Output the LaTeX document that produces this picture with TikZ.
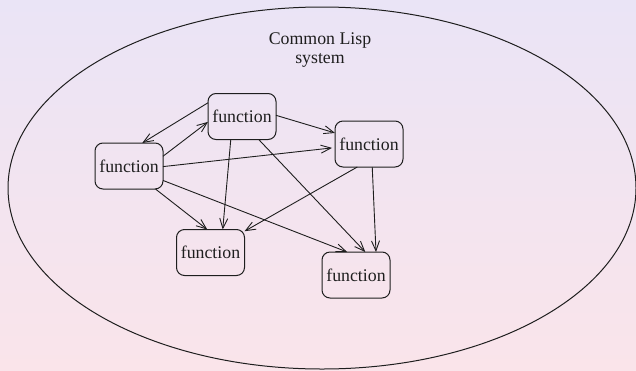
\documentclass[tikz,border=0pt]{standalone}
\usepackage{fontspec}
\setmainfont{Liberation Serif}
\usetikzlibrary{arrows.meta}
\definecolor{bgtop}{RGB}{234,228,246}
\definecolor{bgbot}{RGB}{250,228,234}
\definecolor{ink}{RGB}{30,30,30}
\tikzset{
  fn/.style={draw=ink, line width=1pt, rounded corners=8pt, minimum width=68pt, minimum height=46pt, inner sep=0pt, outer sep=0pt, font=\fontsize{17.8}{19}\selectfont, text=ink},
  link/.style={draw=ink, line width=0.9pt, -{Straight Barb[length=10pt,width=8pt,line width=0.9pt]}},
}
\begin{document}
\begin{tikzpicture}[x=1pt,y=-1pt]
\shade[top color=bgtop, bottom color=bgbot] (0,0) rectangle (636,370);
\useasboundingbox (0,0) rectangle (636,370);
\draw[ink, line width=1pt] (322,188) ellipse [x radius=314, y radius=181];
\node[font=\fontsize{17.8}{18.5}\selectfont, text=ink, align=center] (title) at (320,50) {Common Lisp\\system};
\node[fn] (T) at (242,116.5) {function};
\node[fn] (L) at (129,166) {function};
\node[fn] (R) at (369,144) {function};
\node[fn] (BL) at (210.5,252.5) {function};
\node[fn] (BR) at (356,275) {function};
\draw[link] (T.158.3) -- (L.60.5);
\draw[link] (L.16.4) -- (T.189.2);
\draw[link, shorten >=3pt] (L.-1.7) -- (R.186.7);
\draw[link] (T.2.5) -- (R.162.6);
\draw[link] (L.-41.5) -- (BL.98.8);
\draw[link] (T.-116) -- (BL.62.9);
\draw[link] (R.-117.6) -- (BL.32.6);
\draw[link] (L.-23.8) -- (BR.111.4);
\draw[link] (T.-54.6) -- (BR.68.6);
\draw[link] (R.-82.6) -- (BR.49);
\end{tikzpicture}
\end{document}
